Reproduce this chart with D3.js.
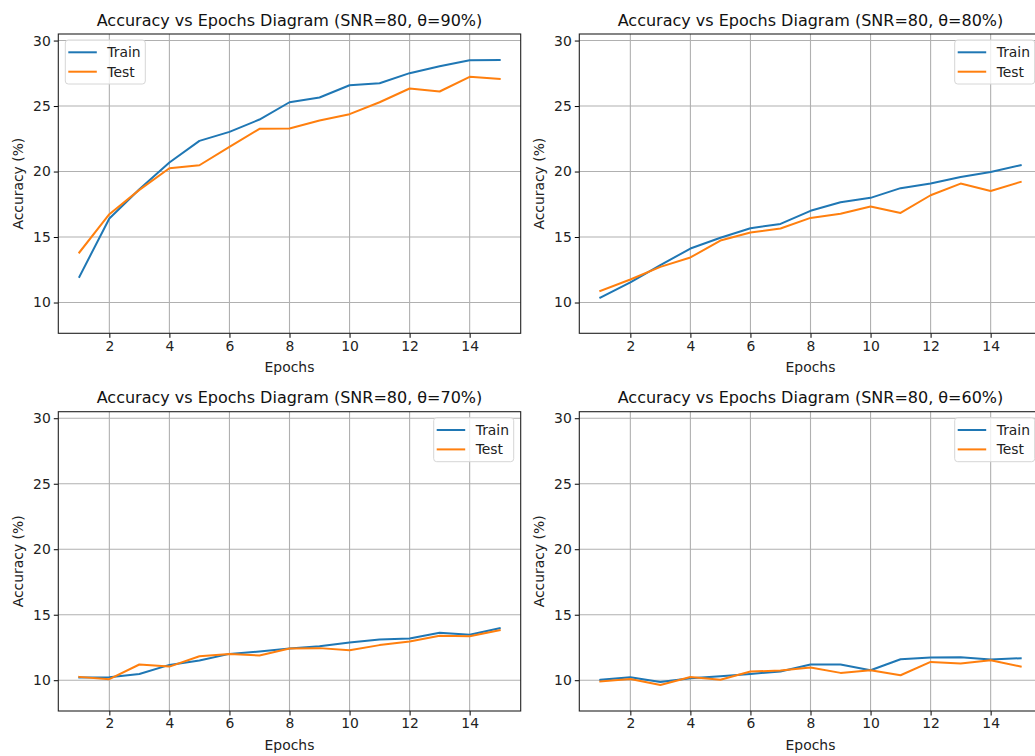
<!DOCTYPE html>
<html>
<head>
<meta charset="utf-8">
<script src="https://cdn.jsdelivr.net/npm/d3@7"></script>
<style>
  body { margin: 0; background: #fff; }
  svg { display: block; font-family: "DejaVu Sans", sans-serif; }
</style>
</head>
<body>
<div id="chart"></div>
<script>
// values
var epochs = d3.range(1, 16);

var titles = [
  "Accuracy vs Epochs Diagram (SNR=80, θ=90%)",
  "Accuracy vs Epochs Diagram (SNR=80, θ=80%)",
  "Accuracy vs Epochs Diagram (SNR=80, θ=70%)",
  "Accuracy vs Epochs Diagram (SNR=80, θ=60%)"
];

var train90 = [11.96, 16.41, 18.65, 20.69, 22.34, 23.03, 23.97, 25.29, 25.65, 26.59, 26.74, 27.51, 28.04, 28.5, 28.52];
var test90  = [13.82, 16.74, 18.6, 20.25, 20.48, 21.88, 23.26, 23.28, 23.89, 24.38, 25.29, 26.34, 26.11, 27.23, 27.07];

var train80 = [10.38, 11.53, 12.85, 14.12, 14.94, 15.67, 16.0, 17.0, 17.66, 17.99, 18.73, 19.08, 19.59, 19.97, 20.48];
var test80  = [10.89, 11.76, 12.72, 13.44, 14.73, 15.34, 15.65, 16.46, 16.77, 17.33, 16.84, 18.19, 19.08, 18.52, 19.21];

var train70 = [10.2, 10.23, 10.48, 11.17, 11.5, 12.01, 12.19, 12.42, 12.6, 12.88, 13.11, 13.18, 13.62, 13.47, 13.97];
var test70  = [10.25, 10.08, 11.2, 11.04, 11.83, 12.01, 11.89, 12.42, 12.45, 12.29, 12.68, 12.96, 13.39, 13.36, 13.82];

var train60 = [10.03, 10.23, 9.87, 10.15, 10.31, 10.48, 10.66, 11.2, 11.2, 10.76, 11.6, 11.73, 11.75, 11.58, 11.68];
var test60  = [9.9, 10.1, 9.64, 10.25, 10.03, 10.66, 10.74, 10.97, 10.56, 10.76, 10.38, 11.4, 11.27, 11.53, 11.04];

var xTicks = [2, 4, 6, 8, 10, 12, 14];
var yTicks = [10, 15, 20, 25, 30];
var seriesNames = ["Train", "Test"];

var panels = [
  {title: titles[0], train: train90, test: test90, legend: "left"},
  {title: titles[1], train: train80, test: test80, legend: "right"},
  {title: titles[2], train: train70, test: test70, legend: "right"},
  {title: titles[3], train: train60, test: test60, legend: "right"}
];

var width = 1035, height = 756;
var colors = ["#1f77b4", "#ff7f0e"];

var svg = d3.select("#chart").append("svg")
  .attr("width", width)
  .attr("height", height);

var axW = 462.4, axH = 299.3;
var lefts = [58.3, 579.3], tops = [34, 411.7];

var x = d3.scaleLinear().domain([0.3, 15.7]).range([0, axW]);
var y = d3.scaleLinear().domain([7.65, 30.5]).range([axH, 0]);

panels.forEach(function(p, i){
  var g = svg.append("g")
    .attr("transform", "translate(" + lefts[i % 2] + "," + tops[Math.floor(i / 2)] + ")");

  // grid
  g.append("g").selectAll("line").data(xTicks).join("line")
    .attr("x1", d => x(d)).attr("x2", d => x(d))
    .attr("y1", 0).attr("y2", axH)
    .attr("stroke", "#b0b0b0").attr("stroke-width", 1.1);
  g.append("g").selectAll("line").data(yTicks).join("line")
    .attr("y1", d => y(d)).attr("y2", d => y(d))
    .attr("x1", 0).attr("x2", axW)
    .attr("stroke", "#b0b0b0").attr("stroke-width", 1.1);

  // axes
  var xa = g.append("g")
    .attr("transform", "translate(0," + axH + ")")
    .call(d3.axisBottom(x).tickValues(xTicks).tickSize(4.5).tickPadding(3).tickSizeOuter(0));
  var ya = g.append("g")
    .call(d3.axisLeft(y).tickValues(yTicks).tickSize(4.5).tickPadding(3).tickSizeOuter(0));
  [xa, ya].forEach(function(a){
    a.select(".domain").remove();
    a.selectAll("line").attr("stroke", "#000").attr("stroke-width", 1);
    a.selectAll("text").attr("font-size", "13.9px").attr("fill", "#222")
      .attr("font-family", "DejaVu Sans");
  });

  // lines
  var line = d3.line().x((d, j) => x(epochs[j])).y(d => y(d));
  [p.train, p.test].forEach(function(s, k){
    g.append("path").datum(s)
      .attr("d", line)
      .attr("fill", "none")
      .attr("stroke", colors[k])
      .attr("stroke-width", 2)
      .attr("stroke-linejoin", "round")
      .attr("stroke-linecap", "square");
  });

  // frame
  g.append("rect")
    .attr("width", axW).attr("height", axH)
    .attr("fill", "none").attr("stroke", "#222").attr("stroke-width", 1.1);

  // title and labels
  g.append("text")
    .attr("x", axW / 2).attr("y", -8.3)
    .attr("text-anchor", "middle")
    .attr("font-size", "16px")
    .attr("fill", "#111")
    .text(p.title);
  g.append("text")
    .attr("x", axW / 2).attr("y", axH + 39)
    .attr("text-anchor", "middle")
    .attr("font-size", "13.9px")
    .attr("fill", "#222")
    .text("Epochs");
  g.append("text")
    .attr("transform", "translate(-35," + (axH / 2) + ") rotate(-90)")
    .attr("text-anchor", "middle")
    .attr("font-size", "13.9px")
    .attr("fill", "#222")
    .text("Accuracy (%)");

  // legend
  var lw = 80, lh = 44;
  var lx = p.legend === "left" ? 7 : axW - 7 - lw;
  var lg = g.append("g").attr("transform", "translate(" + lx + ",6)");
  lg.append("rect")
    .attr("width", lw).attr("height", lh)
    .attr("rx", 3)
    .attr("fill", "#fff").attr("fill-opacity", 0.8)
    .attr("stroke", "#d6d6d6").attr("stroke-width", 1);
  seriesNames.forEach(function(n, k){
    var ly = 12.3 + k * 19.4;
    lg.append("line")
      .attr("x1", 3).attr("x2", 31.5)
      .attr("y1", ly).attr("y2", ly)
      .attr("stroke", colors[k]).attr("stroke-width", 2);
    lg.append("text")
      .attr("x", 42).attr("y", ly + 5)
      .attr("font-size", "13.9px")
      .attr("fill", "#222")
      .text(n);
  });
});
</script>
</body>
</html>
